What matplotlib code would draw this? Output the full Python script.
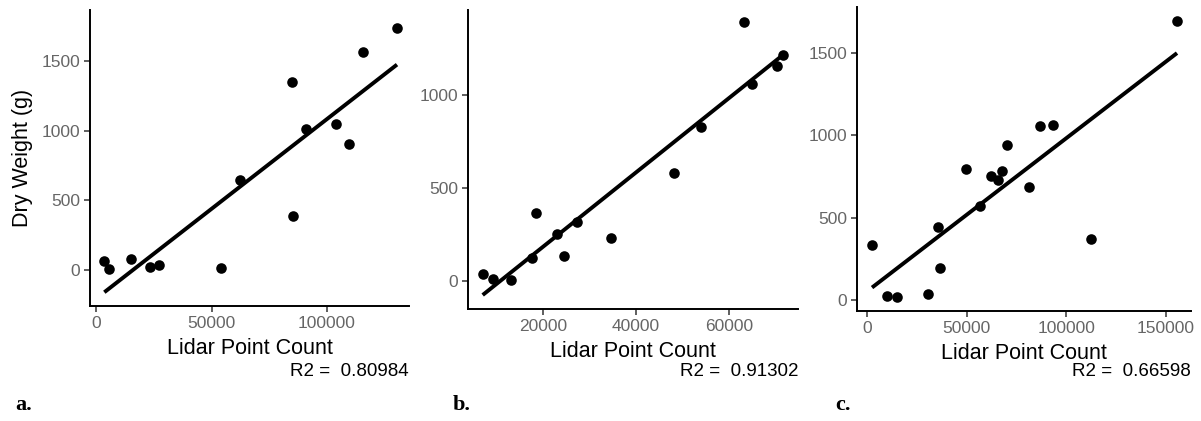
import matplotlib
matplotlib.use("Agg")
import matplotlib.pyplot as plt
import numpy as np

# panel a
a_count = [3600, 5760, 15150, 23500, 27400, 54250, 62200, 84850, 85280, 90900,
           104030, 109380, 115580, 130300]
a_weight = [65, 10, 81, 24, 36, 17, 647, 1355, 388, 1012, 1048, 904, 1566, 1743]

# panel b
b_count = [7000, 9230, 13040, 17630, 18580, 22950, 24610, 27330, 34530, 48230,
           53920, 63190, 64980, 70370, 71730]
b_weight = [41, 13, 5, 123, 366, 254, 134, 320, 232, 579, 831, 1390, 1060, 1156, 1213]

# panel c
c_count = [2510, 9900, 15280, 30500, 35530, 36680, 49600, 56630, 62160, 65530,
           67840, 70050, 81410, 86630, 93310, 112410, 155480]
c_weight = [337, 22, 16, 35, 443, 193, 796, 569, 755, 729, 784, 942, 688, 1058,
            1064, 370, 1697]

r2_labels = ["R2 =  0.80984", "R2 =  0.91302", "R2 =  0.66598"]
panel_labels = ["a.", "b.", "c."]
xticks = [[0, 50000, 100000], [20000, 40000, 60000], [0, 50000, 100000, 150000]]
yticks = [[0, 500, 1000, 1500], [0, 500, 1000], [0, 500, 1000, 1500]]
xlims = [(-2600, 135500), (3840, 74890), (-5030, 162500)]
ylims = [(-259, 1870), (-148, 1456), (-67, 1781)]

plt.rcParams["font.family"] = ["Liberation Sans", "DejaVu Sans"]

fig = plt.figure(figsize=(12.01, 4.21), dpi=100)
W, H = 1201, 421
boxes = [(90, 409, 10, 306), (468, 798, 10, 309), (857, 1191, 7, 311)]
label_x = [15, 453, 835]

data = [(a_count, a_weight), (b_count, b_weight), (c_count, c_weight)]
for i, ((xs, ys), (l, r, t, b)) in enumerate(zip(data, boxes)):
    ax = fig.add_axes([l / W, 1 - b / H, (r - l) / W, (b - t) / H])
    xs = np.array(xs, dtype=float)
    ys = np.array(ys, dtype=float)
    ax.scatter(xs, ys, s=58, color="black", zorder=3, linewidths=0)
    k, c0 = np.polyfit(xs, ys, 1)
    lx = np.array([xs.min(), xs.max()])
    ax.plot(lx, k * lx + c0, color="black", lw=2.8, zorder=2,
            solid_capstyle="butt")

    ax.set_xlim(*xlims[i])
    ax.set_ylim(*ylims[i])
    ax.set_xticks(xticks[i])
    ax.set_yticks(yticks[i])
    for s in ["top", "right"]:
        ax.spines[s].set_visible(False)
    for s in ["left", "bottom"]:
        ax.spines[s].set_linewidth(1.4)
        ax.spines[s].set_color("black")
    ax.tick_params(direction="out", length=4, width=1.1, color="#333333",
                   labelsize=12.5, labelcolor="#666666", pad=3)
    ax.set_xlabel("Lidar Point Count", fontsize=15.5, labelpad=5)
    if i == 0:
        ax.set_ylabel("Dry Weight (g)", fontsize=15.5, labelpad=6)

    fig.text(r / W, 1 - 372 / H, r2_labels[i], ha="right", va="center",
             fontsize=13.5)
    fig.text(label_x[i] / W, 1 - 405 / H, panel_labels[i],
             ha="left", va="center", fontsize=16, fontweight="bold",
             family="Liberation Serif")

fig.savefig("out.png", dpi=100)
